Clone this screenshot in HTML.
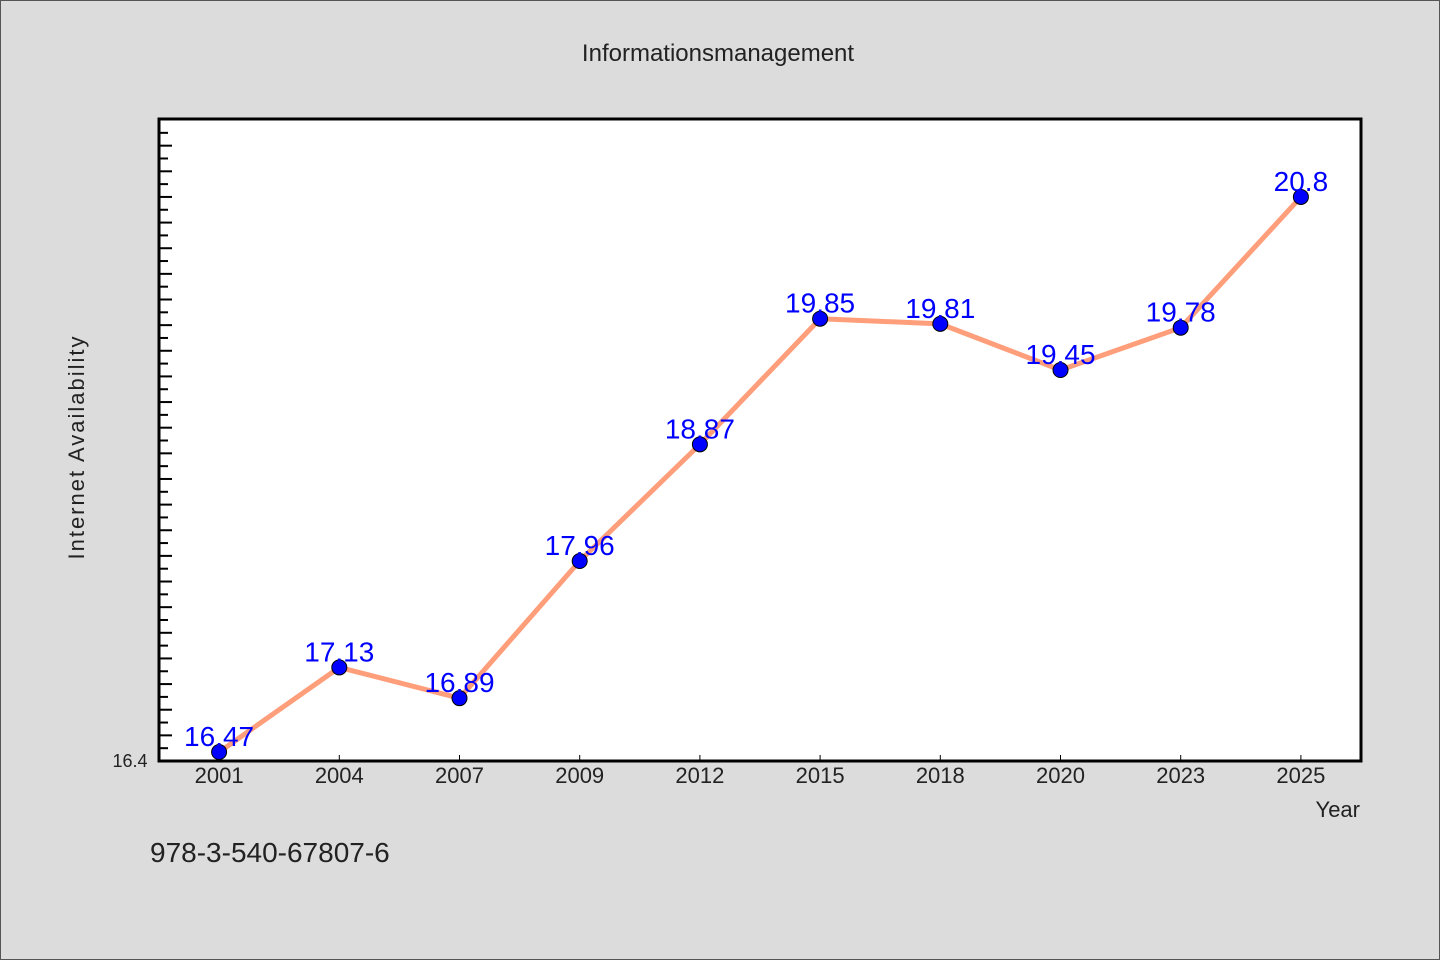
<!DOCTYPE html>
<html><head><meta charset="utf-8"><style>
html,body{margin:0;padding:0;background:#dcdcdc;}
svg{display:block;}
text{font-family:"WenQuanYi Zen Hei","Liberation Sans",sans-serif;}
</style></head><body>
<svg id="chart" width="1440" height="960" xmlns="http://www.w3.org/2000/svg">
<rect x="0.5" y="0.5" width="1439" height="959" fill="#dcdcdc" stroke="#555"/>
<text x="718" y="61" text-anchor="middle" font-size="24" fill="#222">Informationsmanagement</text>
<rect x="159" y="119" width="1202" height="642" fill="#fff"/>
<g id="ticks"></g>
<g id="series"></g>
<rect x="159" y="119" width="1202" height="642" fill="none" stroke="#000" stroke-width="3"/>
<text x="130" y="767" text-anchor="middle" font-size="18" fill="#222">16.4</text>
<text transform="translate(84,447) rotate(-90)" text-anchor="middle" font-size="22" fill="#222" letter-spacing="2">Internet Availability</text>
<text x="1360" y="817" text-anchor="end" font-size="22" fill="#222">Year</text>
<text x="150" y="862" font-size="28" fill="#222">978-3-540-67807-6</text>
</svg>
<script>
const categories=["2001","2004","2007","2009","2012","2015","2018","2020","2023","2025"];
const values=[16.47,17.13,16.89,17.96,18.87,19.85,19.81,19.45,19.78,20.8];
const labels=["16.47","17.13","16.89","17.96","18.87","19.85","19.81","19.45","19.78","20.8"];
const yMin=16.4,yMax=21.408;
const L=159,R=1361,T=119,B=761;
const NS="http://www.w3.org/2000/svg";
function xs(i){return L+(R-L)/categories.length*(i+0.5);}
function ys(v){return B-(v-yMin)/(yMax-yMin)*(B-T);}
const tg=document.getElementById('ticks'),sg=document.getElementById('series');
function mk(tag,attrs,parent){const e=document.createElementNS(NS,tag);for(const k in attrs)e.setAttribute(k,attrs[k]);parent.appendChild(e);return e;}
for(let k=1;;k++){const v=yMin+k*0.1;const y=ys(v);if(y<T+2)break;
 const t=mk('line',{x1:L,x2:L+(k%2===0?13:9),y1:y,y2:y,stroke:'#000','stroke-width':2},tg);
 
 }
categories.forEach((c,i)=>{
 const t=mk('line',{x1:xs(i),x2:xs(i),y1:B,y2:B-6,stroke:'#000','stroke-width':1},tg);
 
 
 const l=mk('text',{x:xs(i),y:783,'text-anchor':'middle','font-size':22,fill:'#222'},tg);
 l.textContent=c;
 
 
});
const pts=values.map((v,i)=>xs(i)+','+ys(v)).join(' ');
const line=mk('polyline',{points:pts,fill:'none',stroke:'#ff9e7a','stroke-width':5,'stroke-linejoin':'round'},sg);


values.forEach((v,i)=>{
 const c=mk('circle',{cx:xs(i),cy:ys(v),r:7.5,fill:'#0000ff',stroke:'#000','stroke-width':1},sg);
 
 
});
values.forEach((v,i)=>{
 const t=mk('text',{x:xs(i),y:ys(v)-6,'text-anchor':'middle','font-size':28,fill:'#0000ff'},sg);
 t.textContent=labels[i];
 
 
});
</script>
</body></html>
